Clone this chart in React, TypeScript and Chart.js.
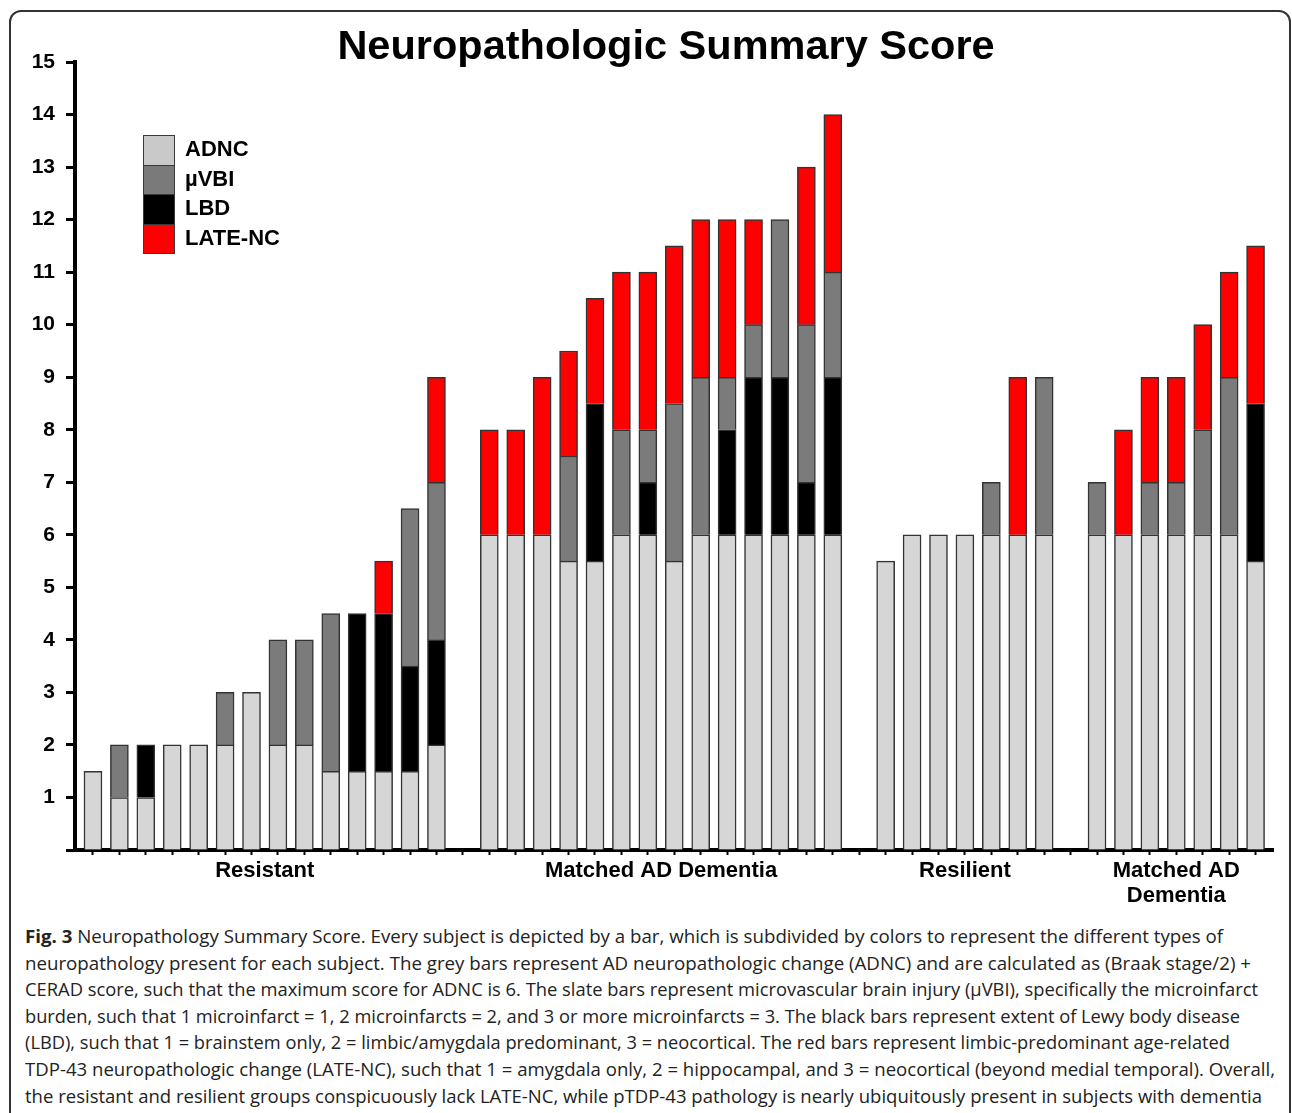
import React, { useEffect, useLayoutEffect, useRef } from 'react';
import { Chart, registerables } from 'chart.js';

Chart.register(...registerables);

// ---------- DATA ----------
const chartTitle = 'Neuropathologic Summary Score';
const seriesNames = ['ADNC', 'µVBI', 'LBD', 'LATE-NC'];
const groupNames: (string | string[])[] = ['Resistant', 'Matched AD Dementia', 'Resilient', ['Matched AD', 'Dementia']];
const yTickValues = [1, 2, 3, 4, 5, 6, 7, 8, 9, 10, 11, 12, 13, 14, 15];

// Resistant
const resistantADNC = [1.5, 1, 1, 2, 2, 2, 3, 2, 2, 1.5, 1.5, 1.5, 1.5, 2];
const resistantLBD = [0, 0, 1, 0, 0, 0, 0, 0, 0, 0, 3, 3, 2, 2];
const resistantVBI = [0, 1, 0, 0, 0, 1, 0, 2, 2, 3, 0, 0, 3, 3];
const resistantLATE = [0, 0, 0, 0, 0, 0, 0, 0, 0, 0, 0, 1, 0, 2];

// Matched AD Dementia (for resistant)
const matchedADNC = [6, 6, 6, 5.5, 5.5, 6, 6, 5.5, 6, 6, 6, 6, 6, 6];
const matchedLBD = [0, 0, 0, 0, 3, 0, 1, 0, 0, 2, 3, 3, 1, 3];
const matchedVBI = [0, 0, 0, 2, 0, 2, 1, 3, 3, 1, 1, 3, 3, 2];
const matchedLATE = [2, 2, 3, 2, 2, 3, 3, 3, 3, 3, 2, 0, 3, 3];

// Resilient
const resilientADNC = [5.5, 6, 6, 6, 6, 6, 6];
const resilientLBD = [0, 0, 0, 0, 0, 0, 0];
const resilientVBI = [0, 0, 0, 0, 1, 0, 3];
const resilientLATE = [0, 0, 0, 0, 0, 3, 0];

// Matched AD Dementia (for resilient)
const matched2ADNC = [6, 6, 6, 6, 6, 6, 5.5];
const matched2LBD = [0, 0, 0, 0, 0, 0, 3];
const matched2VBI = [1, 0, 1, 1, 2, 3, 0];
const matched2LATE = [0, 2, 2, 2, 2, 2, 3];

const captionLines = [
  ' Neuropathology Summary Score. Every subject is depicted by a bar, which is subdivided by colors to represent the different types of',
  'neuropathology present for each subject. The grey bars represent AD neuropathologic change (ADNC) and are calculated as (Braak stage/2) +',
  'CERAD score, such that the maximum score for ADNC is 6. The slate bars represent microvascular brain injury (μVBI), specifically the microinfarct',
  'burden, such that 1 microinfarct = 1, 2 microinfarcts = 2, and 3 or more microinfarcts = 3. The black bars represent extent of Lewy body disease',
  '(LBD), such that 1 = brainstem only, 2 = limbic/amygdala predominant, 3 = neocortical. The red bars represent limbic-predominant age-related',
  'TDP-43 neuropathologic change (LATE-NC), such that 1 = amygdala only, 2 = hippocampal, and 3 = neocortical (beyond medial temporal). Overall,',
  'the resistant and resilient groups conspicuously lack LATE-NC, while pTDP-43 pathology is nearly ubiquitously present in subjects with dementia',
];
const captionLead = 'Fig. 3';

// ---------- STYLE / LAYOUT ----------
const FONT = "'Liberation Sans', Arial, Helvetica, sans-serif";
const barColors = { ADNC: '#d6d6d6', VBI: '#7b7b7b', LBD: '#000000', LATE: '#ff0000' };
const legendColors = ['#c9c9c9', '#7a7a7a', '#000000', '#ff0000'];
const GAP = 1;
const captionLeft = 25;
const captionEnds = [1223, 1251, 1258, 1240, 1230, 1275, 1262];

const groupSizes = [resistantADNC.length, matchedADNC.length, resilientADNC.length, matched2ADNC.length];
const groupStarts: number[] = [];
{
  let p = 0;
  groupSizes.forEach((n) => {
    groupStarts.push(p);
    p += n + GAP;
  });
}
const totalSlots = groupStarts[groupStarts.length - 1] + groupSizes[groupSizes.length - 1];
const groupCenters = groupSizes.map((n, i) => groupStarts[i] + (n - 1) / 2);

function toPoints(groups: number[][]) {
  const pts: { x: number; y: number | null }[] = [];
  groups.forEach((g, gi) => {
    g.forEach((v, i) => {
      pts.push({ x: groupStarts[gi] + i, y: v > 0 ? v : null });
    });
  });
  return pts;
}

// let the y tick labels draw outside the (narrow) y-scale box
const widenYLabelArea = {
  id: 'widenYLabelArea',
  afterLayout(chart: any) {
    const y = chart.scales.y;
    if (y) y.left = 0;
  },
};

function ChartView() {
  const canvasRef = useRef<HTMLCanvasElement | null>(null);
  useEffect(() => {
    const canvas = canvasRef.current;
    if (!canvas) return;
    const common = { barThickness: 18, borderWidth: 1.5, borderColor: '#333333' };
    const chart = new Chart(canvas, {
      type: 'bar',
      data: {
        datasets: [
          { label: seriesNames[0], data: toPoints([resistantADNC, matchedADNC, resilientADNC, matched2ADNC]), backgroundColor: barColors.ADNC, ...common },
          { label: seriesNames[2], data: toPoints([resistantLBD, matchedLBD, resilientLBD, matched2LBD]), backgroundColor: barColors.LBD, ...common },
          { label: seriesNames[1], data: toPoints([resistantVBI, matchedVBI, resilientVBI, matched2VBI]), backgroundColor: barColors.VBI, ...common },
          { label: seriesNames[3], data: toPoints([resistantLATE, matchedLATE, resilientLATE, matched2LATE]), backgroundColor: barColors.LATE, ...common },
        ] as any,
      },
      plugins: [widenYLabelArea],
      options: {
        animation: false,
        responsive: false,
        devicePixelRatio: 1,
        layout: { padding: { left: 59, right: 19, top: 0, bottom: 0 } },
        plugins: {
          legend: { display: false },
          tooltip: { enabled: false },
          title: {
            display: true,
            text: chartTitle,
            color: '#000',
            font: { family: FONT, size: 41.5, weight: 'bold', lineHeight: 0.7 },
            padding: { top: 33, bottom: 0 },
          },
        },
        scales: {
          x: {
            type: 'linear',
            min: -0.68,
            max: totalSlots - 1 + 0.66,
            offset: false,
            stacked: true,
            grid: {
              offset: false,
              drawOnChartArea: false,
              drawTicks: true,
              tickLength: 5,
              tickWidth: 2,
              tickColor: (ctx: any) => (ctx.tick && Number.isInteger(ctx.tick.value) ? '#000' : 'rgba(0,0,0,0)'),
            },
            border: { display: true, width: 4, color: '#000' },
            ticks: {
              autoSkip: false,
              maxRotation: 0,
              minRotation: 0,
              padding: 4,
              color: '#000',
              font: { family: FONT, size: 22, weight: 'bold', lineHeight: 1.12 },
              callback: (v: any) => {
                const gi = groupCenters.findIndex((c) => Math.abs(c - Number(v)) < 1e-6);
                return gi >= 0 ? (groupNames[gi] as any) : '';
              },
            },
            afterBuildTicks: (scale: any) => {
              const vals: number[] = [];
              for (let i = 0; i < totalSlots; i++) vals.push(i);
              groupCenters.forEach((c) => {
                if (!vals.includes(c)) vals.push(c);
              });
              vals.sort((a, b) => a - b);
              scale.ticks = vals.map((value) => ({ value }));
            },
            afterFit: (scale: any) => {
              scale.height = 65;
            },
          } as any,
          y: {
            type: 'linear',
            min: 0,
            max: 15,
            stacked: true,
            grid: {
              drawOnChartArea: false,
              drawTicks: true,
              tickLength: 9,
              tickWidth: 3,
              tickColor: '#000',
            },
            border: { display: true, width: 4, color: '#000' },
            ticks: {
              stepSize: 1,
              autoSkip: false,
              padding: 11,
              color: '#000',
              font: { family: FONT, size: 21, weight: 'bold' },
              callback: (v: any) => (yTickValues.includes(Number(v)) ? String(v) : ''),
            },
            afterFit: (scale: any) => {
              scale.width = 16;
            },
          } as any,
        },
      },
    });
    return () => chart.destroy();
  }, []);
  return (
    <canvas
      ref={canvasRef}
      width={1292}
      height={915}
      style={{ position: 'absolute', left: 0, top: 0, width: 1292, height: 915 }}
    />
  );
}

function Legend() {
  const swH = 29.5;
  return (
    <div style={{ position: 'absolute', left: 143, top: 135 }}>
      <div style={{ width: 32, border: '1px solid #3a3a3a', boxSizing: 'border-box' }}>
        {seriesNames.map((n, i) => (
          <div
            key={n}
            style={{
              height: i === 0 ? swH - 1 : swH,
              background: legendColors[i],
              borderTop: i === 0 ? 'none' : '1px solid #3a3a3a',
              boxSizing: 'border-box',
            }}
          />
        ))}
      </div>
      {seriesNames.map((n, i) => (
        <div
          key={n}
          style={{
            position: 'absolute',
            left: 42,
            top: i * swH - 1,
            height: swH,
            lineHeight: `${swH}px`,
            fontFamily: FONT,
            fontWeight: 'bold',
            fontSize: 22,
            color: '#000',
            whiteSpace: 'nowrap',
          }}
        >
          {n}
        </div>
      ))}
    </div>
  );
}

function Caption() {
  const refs = useRef<(HTMLSpanElement | null)[]>([]);
  useLayoutEffect(() => {
    const fit = () => {
      refs.current.forEach((el, i) => {
        if (!el) return;
        el.style.transform = 'none';
        const w = el.getBoundingClientRect().width;
        if (w > 0) el.style.transform = `scaleX(${(captionEnds[i] - captionLeft) / w})`;
      });
    };
    fit();
    const f: any = (document as any).fonts;
    if (f && f.ready) f.ready.then(fit);
  }, []);
  return (
    <>
      {captionLines.map((line, i) => (
        <div
          key={i}
          style={{
            position: 'absolute',
            left: captionLeft,
            top: 923 + i * 26.6,
            height: 26.6,
            lineHeight: '26.6px',
            fontFamily: "'Open Sans', 'Noto Sans', sans-serif",
            fontSize: 18.5,
            color: '#222',
            whiteSpace: 'nowrap',
          }}
        >
          <span
            ref={(el) => {
              refs.current[i] = el;
            }}
            style={{ display: 'inline-block', transformOrigin: 'left center' }}
          >
            {i === 0 ? <b>{captionLead}</b> : null}
            {line}
          </span>
        </div>
      ))}
    </>
  );
}

export default function App() {
  return (
    <div
      style={{
        position: 'absolute',
        left: 0,
        top: 0,
        width: 1292,
        height: 1113,
        overflow: 'hidden',
        background: '#fff',
      }}
    >
      <div
        style={{
          position: 'absolute',
          left: 9,
          top: 10,
          width: 1282,
          height: 1200,
          border: '2px solid #333',
          borderRadius: 12,
          boxSizing: 'border-box',
        }}
      />
      <ChartView />
      <Legend />
      <Caption />
    </div>
  );
}
